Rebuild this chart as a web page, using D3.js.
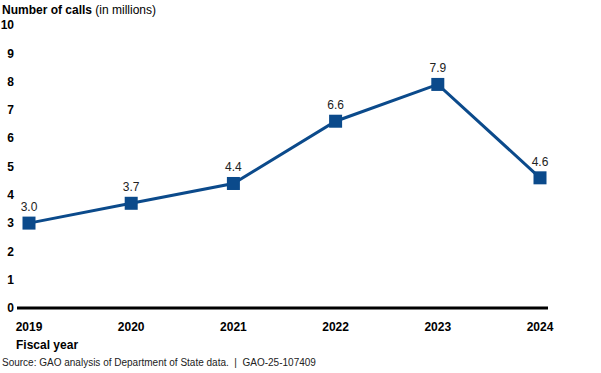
<html>
<head>
<script src="https://d3js.org/d3.v7.min.js"></script>
<style>
body { margin:0; background:#fff; }
text { font-family: "Liberation Sans", Arial, sans-serif; }
</style>
</head>
<body>
<script>
var width = 601;
var height = 373;

var years = ["2019", "2020", "2021", "2022", "2023", "2024"];
var calls = [3.0, 3.7, 4.4, 6.6, 7.9, 4.6];
var yTicks = [0, 1, 2, 3, 4, 5, 6, 7, 8, 9, 10];

var x = d3.scalePoint()
    .domain(years)
    .range([29, 540]);
var y = d3.scaleLinear()
    .domain([0, 10])
    .range([308, 25]);

var svg = d3.select("body").append("svg")
    .attr("width", width)
    .attr("height", height);

// y tick labels
svg.append("g")
  .selectAll("text")
  .data(yTicks)
  .enter().append("text")
    .attr("x", 14)
    .attr("y", function(d) { return y(d); })
    .attr("dy", "0.35em")
    .attr("text-anchor", "end")
    .attr("font-size", 12)
    .attr("font-weight", "bold")
    .text(function(d) { return d; });

// zero baseline
svg.append("line")
    .attr("x1", 17).attr("x2", 548)
    .attr("y1", y(0)).attr("y2", y(0))
    .attr("stroke", "#000")
    .attr("stroke-width", 3);

// x labels
svg.append("g")
  .selectAll("text")
  .data(years)
  .enter().append("text")
    .attr("x", function(d) { return x(d); })
    .attr("y", 331)
    .attr("text-anchor", "middle")
    .attr("font-size", 12)
    .attr("font-weight", "bold")
    .text(function(d) { return d; });

var line = d3.line()
    .x(function(d, i) { return x(years[i]); })
    .y(function(d) { return y(d); });

svg.append("path")
    .datum(calls)
    .attr("fill", "none")
    .attr("stroke", "#0b4a8b")
    .attr("stroke-width", 3)
    .attr("d", line);

svg.append("g")
  .selectAll("rect")
  .data(calls)
  .enter().append("rect")
    .attr("x", function(d, i) { return x(years[i]) - 6.5; })
    .attr("y", function(d) { return y(d) - 6.5; })
    .attr("width", 13)
    .attr("height", 13)
    .attr("fill", "#0b4a8b");

svg.append("g")
  .selectAll("text")
  .data(calls)
  .enter().append("text")
    .attr("x", function(d, i) { return x(years[i]); })
    .attr("y", function(d) { return y(d) - 12; })
    .attr("text-anchor", "middle")
    .attr("font-size", 12)
    .attr("fill", "#222")
    .text(function(d) { return d.toFixed(1); });

// title
var title = svg.append("text")
    .attr("x", 2).attr("y", 14)
    .attr("font-size", 12);
title.append("tspan").attr("font-weight", "bold").text("Number of calls");
title.append("tspan").text(" (in millions)");

svg.append("text")
    .attr("x", 16).attr("y", 349)
    .attr("font-size", 12)
    .attr("font-weight", "bold")
    .text("Fiscal year");

svg.append("text")
    .attr("x", 2).attr("y", 366)
    .attr("font-size", 10)
    .attr("fill", "#222")
    .style("white-space", "pre")
    .text("Source: GAO analysis of Department of State data.  |  GAO-25-107409");
</script>
</body>
</html>
